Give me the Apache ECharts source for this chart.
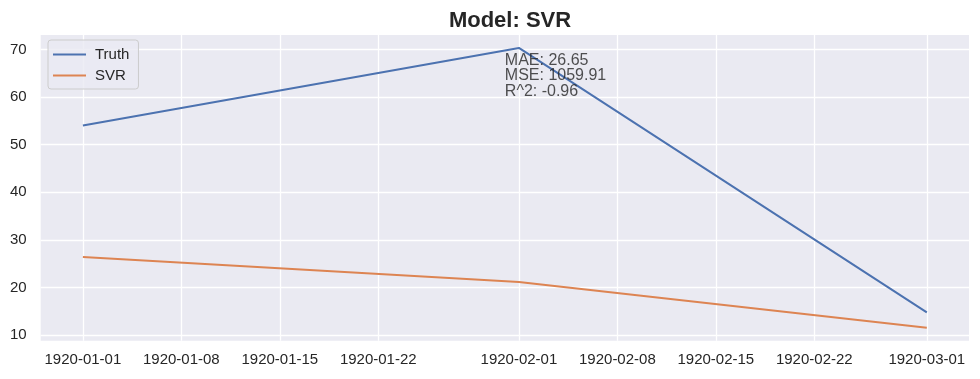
<!DOCTYPE html>
<html>
<head>
<meta charset="utf-8">
<script src="https://cdn.jsdelivr.net/npm/echarts@6/dist/echarts.min.js"></script>
<style>
html,body{margin:0;padding:0;background:#ffffff;}
#chart{width:980px;height:379px;}
</style>
</head>
<body>
<div id="chart"></div>
<script>
// ---- data ----
const dates = ['1920-01-01', '1920-02-01', '1920-03-01'];
const truthValues = [54.05, 70.35, 14.77];
const svrValues = [26.38, 21.13, 11.53];
const xTickLabels = ['1920-01-01','1920-01-08','1920-01-15','1920-01-22','1920-02-01','1920-02-08','1920-02-15','1920-02-22','1920-03-01'];
const yTickValues = [10, 20, 30, 40, 50, 60, 70];
const metricLines = ['MAE: 26.65', 'MSE: 1059.91', 'R^2: -0.96'];
const annotationAnchor = ['1920-01-31', 69.4];
const xLimits = ['1919-12-29', '1920-03-04'];
const yLimits = [8.8, 73.07];

const t = s => Date.parse(s + 'T00:00:00Z');
const pad = n => (n < 10 ? '0' : '') + n;
const fmt = v => { const d = new Date(v); return d.getUTCFullYear() + '-' + pad(d.getUTCMonth() + 1) + '-' + pad(d.getUTCDate()); };

const FONT = "'Liberation Sans', Arial, sans-serif";
const chart = echarts.init(document.getElementById('chart'), null, {renderer: 'canvas'});
chart.setOption({
  animation: false,
  backgroundColor: '#ffffff',
  title: {
    text: 'Model: SVR', left: 505, top: 5, textAlign: 'center',
    textStyle: {fontFamily: FONT, fontSize: 22, fontWeight: 'bold', color: '#262626'}
  },
  legend: {
    left: 48, top: 40, orient: 'vertical',
    icon: 'rect', itemWidth: 33, itemHeight: 2, itemGap: 6,
    backgroundColor: 'rgba(234,234,242,0.8)', borderColor: '#cccccc', borderWidth: 1, borderRadius: 3,
    padding: [7, 9, 6, 5],
    textStyle: {fontFamily: FONT, fontSize: 15, color: '#262626', padding: [0, 0, 0, 4]},
    data: ['Truth', 'SVR']
  },
  grid: {left: 40.7, right: 11, top: 35, bottom: 38.3, show: true, backgroundColor: '#eaeaf2', borderWidth: 0},
  xAxis: {
    type: 'value', min: t(xLimits[0]), max: t(xLimits[1]),
    axisLine: {show: false},
    axisTick: {show: false, customValues: xTickLabels.map(t)},
    axisLabel: {customValues: xTickLabels.map(t), formatter: v => fmt(v), fontFamily: FONT, fontSize: 15, color: '#262626', margin: 12, hideOverlap: false},
    splitLine: {show: true, lineStyle: {color: '#ffffff', width: 1.3}}
  },
  yAxis: {
    type: 'value', min: yLimits[0], max: yLimits[1],
    axisLine: {show: false},
    axisTick: {show: false, customValues: yTickValues},
    axisLabel: {customValues: yTickValues, fontFamily: FONT, fontSize: 15, color: '#262626', margin: 14},
    splitLine: {show: true, lineStyle: {color: '#ffffff', width: 1.3}}
  },
  series: [
    {name: 'Truth', type: 'line', data: dates.map((d, i) => [t(d), truthValues[i]]), showSymbol: false, symbol: 'none',
     lineStyle: {color: '#4c72b0', width: 2}, itemStyle: {color: '#4c72b0'}, z: 3},
    {name: 'SVR', type: 'line', data: dates.map((d, i) => [t(d), svrValues[i]]), showSymbol: false, symbol: 'none',
     lineStyle: {color: '#dd8452', width: 2}, itemStyle: {color: '#dd8452'}, z: 3},
    {name: 'metrics', type: 'scatter', symbolSize: 0, silent: true, z: 5,
     data: [[t(annotationAnchor[0]), annotationAnchor[1]]],
     label: {show: true, position: [0, 0], align: 'left', verticalAlign: 'top',
       formatter: metricLines.join('\n'), fontFamily: FONT, fontSize: 16, lineHeight: 15.5, color: '#262626'}}
  ]
});
</script>
</body>
</html>
